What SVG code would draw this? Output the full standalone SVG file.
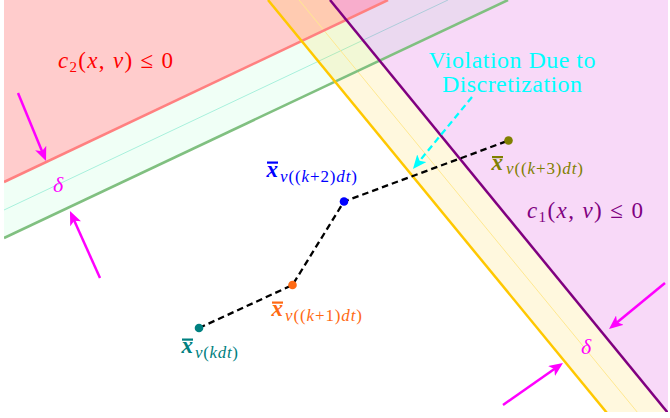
<svg xmlns="http://www.w3.org/2000/svg" width="670" height="418" viewBox="0 0 670 418">
<defs>
  <clipPath id="frame"><rect x="4" y="0" width="664" height="412"/></clipPath>
  <marker id="mag" viewBox="0 0 14 12" refX="10" refY="6" markerWidth="14" markerHeight="12" markerUnits="userSpaceOnUse" orient="auto">
    <path d="M0,0 L14,6 L0,12 L3.5,6 z" fill="#ff00ff"/>
  </marker>
  <marker id="cy" viewBox="0 0 14 12" refX="10" refY="6" markerWidth="14" markerHeight="12" markerUnits="userSpaceOnUse" orient="auto">
    <path d="M0,0 L14,6 L0,12 L3.5,6 z" fill="#00ffff"/>
  </marker>
</defs>
<style>
  .math { font-family: "Liberation Serif", "Times New Roman", serif; }
  .it { font-style: italic; }
  .bd { font-weight: bold; font-style: italic; }
  .traj { fill: none; stroke: #000; stroke-width: 2.3; stroke-dasharray: 6.5 4; }
  .marr { fill: none; stroke: #ff00ff; stroke-width: 2.5; marker-end: url(#mag); }
  .delta { font-family: "Liberation Serif", serif; font-style: italic; font-size: 22px; fill: #ff00ff; }
  .sub { font-size: 17px; }
  .xb { font-size: 23px; }
</style>
<rect width="670" height="418" fill="#ffffff"/>

<g id="regions" clip-path="url(#frame)">
  <g id="c2-region">
    <polygon points="4,0 388,0 4,182" fill="#ff0000" fill-opacity="0.2"/>
    <polygon points="4,182 388,0 508,0 4,238" fill="#00ff66" fill-opacity="0.06"/>
    <line x1="4" y1="210" x2="448" y2="0" stroke="#a8f0dc" stroke-width="1"/>
  </g>
  <g id="c1-region">
    <polygon points="268,0 330,0 668,413 607,413" fill="#ffcc00" fill-opacity="0.13"/>
    <polygon points="330,0 668,0 668,413" fill="#d000d0" fill-opacity="0.15"/>
    <line x1="299" y1="0" x2="638" y2="413" stroke="#ffe890" stroke-width="1"/>
  </g>
  <g id="boundaries">
    <line x1="4" y1="182" x2="388" y2="0" stroke="#ff8080" stroke-width="2.5"/>
    <line x1="4" y1="238" x2="508" y2="0" stroke="#80c080" stroke-width="2.5"/>
    <line x1="268" y1="0" x2="607" y2="413" stroke="#ffc800" stroke-width="2.5"/>
    <line x1="330" y1="0" x2="668" y2="413" stroke="#800080" stroke-width="2.5"/>
  </g>
</g>

<g id="connectors">
  <polyline class="traj" points="199,328 292.5,285 344,201.5 508.5,140.5"/>
  <line x1="472" y1="97" x2="415.5" y2="165.9" stroke="#00ffff" stroke-width="2.3" stroke-dasharray="6.5 4" marker-end="url(#cy)"/>
  <line class="marr" x1="18" y1="93" x2="44.5" y2="157.3"/>
  <line class="marr" x1="100" y1="278" x2="71.6" y2="214.7"/>
  <line class="marr" x1="665" y1="283" x2="612.1" y2="326.5"/>
  <line class="marr" x1="503" y1="405" x2="559.7" y2="365.3"/>
</g>

<g id="label-c2">
  <text class="math" x="58" y="68" font-size="23" fill="#ff0000" textLength="115" lengthAdjust="spacing"><tspan class="it">c</tspan><tspan font-size="15" dy="4">2</tspan><tspan dy="-4">(</tspan><tspan class="it">x</tspan>, <tspan class="it">v</tspan>) ≤ 0</text>
</g>
<g id="label-c1">
  <text class="math" x="527" y="218" font-size="23" fill="#800080" textLength="116" lengthAdjust="spacing"><tspan class="it">c</tspan><tspan font-size="15" dy="4">1</tspan><tspan dy="-4">(</tspan><tspan class="it">x</tspan>, <tspan class="it">v</tspan>) ≤ 0</text>
</g>
<g id="delta-1"><text class="delta" x="58" y="192" text-anchor="middle">δ</text></g>
<g id="delta-2"><text class="delta" x="586" y="354" text-anchor="middle">δ</text></g>

<g id="label-violation" fill="#00ffff" class="math" font-size="24">
  <text x="512" y="68" text-anchor="middle" textLength="167" lengthAdjust="spacing">Violation Due to</text>
  <text x="512" y="92" text-anchor="middle" textLength="140" lengthAdjust="spacing">Discretization</text>
</g>

<g id="node-k" fill="#008080" class="math">
  <circle cx="199" cy="328" r="4.3"/>
  <rect x="182" y="338.5" width="11" height="2.2"/>
  <text class="xb bd" x="181.5" y="353">x</text>
  <text class="sub" x="195" y="358" textLength="43" lengthAdjust="spacing"><tspan class="it">v</tspan>(<tspan class="it">kdt</tspan>)</text>
</g>
<g id="node-k1" fill="#ff6a13" class="math">
  <circle cx="292.5" cy="285" r="4.3"/>
  <rect x="272" y="301.5" width="11" height="2.2"/>
  <text class="xb bd" x="271.5" y="316">x</text>
  <text class="sub" x="285" y="321" textLength="77" lengthAdjust="spacing"><tspan class="it">v</tspan>((<tspan class="it">k</tspan>+1)<tspan class="it">dt</tspan>)</text>
</g>
<g id="node-k2" fill="#0000ff" class="math">
  <circle cx="344" cy="201.5" r="4.3"/>
  <rect x="267" y="161.5" width="11" height="2.2"/>
  <text class="xb bd" x="266.5" y="176.5">x</text>
  <text class="sub" x="280" y="182" textLength="77" lengthAdjust="spacing"><tspan class="it">v</tspan>((<tspan class="it">k</tspan>+2)<tspan class="it">dt</tspan>)</text>
</g>
<g id="node-k3" fill="#808000" class="math">
  <circle cx="508.5" cy="140.5" r="4.3"/>
  <rect x="492" y="156" width="11" height="2.2"/>
  <text class="xb bd" x="491.5" y="170">x</text>
  <text class="sub" x="506" y="174" textLength="77" lengthAdjust="spacing"><tspan class="it">v</tspan>((<tspan class="it">k</tspan>+3)<tspan class="it">dt</tspan>)</text>
</g>
</svg>
